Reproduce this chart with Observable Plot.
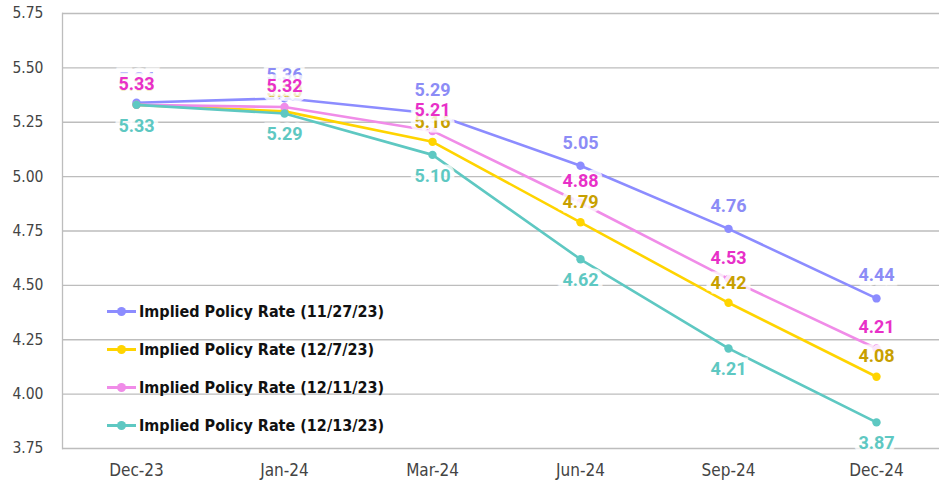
<!DOCTYPE html>
<html>
<head>
<meta charset="utf-8">
<script src="https://cdn.jsdelivr.net/npm/d3@7"></script>
<script src="https://cdn.jsdelivr.net/npm/@observablehq/plot@0.6"></script>
<style>
  html, body { margin: 0; padding: 0; background: #fff; }
  #wrap { position: relative; width: 939px; height: 482px; }
  #legend { position: absolute; left: 107px; top: 292px; font-family: "DejaVu Sans Condensed", sans-serif; font-weight: bold; font-size: 16px; color: #111; }
  .row { display: flex; align-items: center; height: 38px; }
  .sw { position: relative; width: 29px; height: 3px; margin-right: 3px; }
  .sw i { position: absolute; left: 10px; top: -3px; width: 9px; height: 9px; border-radius: 50%; }
</style>
</head>
<body>
<div id="wrap"><div id="chart"></div><div id="legend"></div></div>
<script>
const categories = ["Dec-23", "Jan-24", "Mar-24", "Jun-24", "Sep-24", "Dec-24"];
const seriesNames = ["Implied Policy Rate (11/27/23)", "Implied Policy Rate (12/7/23)", "Implied Policy Rate (12/11/23)", "Implied Policy Rate (12/13/23)"];
const rate1127 = [5.34, 5.36, 5.29, 5.05, 4.76, 4.44];
const rate127  = [5.33, 5.30, 5.16, 4.79, 4.42, 4.08];
const rate1211 = [5.33, 5.32, 5.21, 4.88, 4.53, 4.21];
const rate1213 = [5.33, 5.29, 5.10, 4.62, 4.21, 3.87];
const yTicks = [3.75, 4.00, 4.25, 4.50, 4.75, 5.00, 5.25, 5.50, 5.75];

const lineColors  = ["#8c8cff", "#ffd400", "#f08ce8", "#5ec8c2"];
const labelColors = ["#8c8cf6", "#c8a000", "#e830c8", "#5ec8c2"];
const labelDy     = [-23, -20, -21, 21];

const allSeries = [rate1127, rate127, rate1211, rate1213];
const data = [];
allSeries.forEach((vals, s) => vals.forEach((v, i) => data.push({series: seriesNames[s], s, cat: categories[i], value: v})));

const marks = [
  Plot.gridY(yTicks, {stroke: "#bdbdbd", strokeOpacity: 1, strokeWidth: 1.3}),
  Plot.frame({anchor: "left", stroke: "#bdbdbd", strokeWidth: 1.3}),
  Plot.axisY(yTicks, {tickSize: 0, tickPadding: 19, tickFormat: d => d.toFixed(2), fontSize: 15.5, fill: "#444", label: null}),
  Plot.axisX({tickSize: 0, tickPadding: 15, fontSize: 17, fill: "#444", label: null})
];
seriesNames.forEach((name, s) => {
  const d = data.filter(r => r.s === s);
  marks.push(Plot.line(d, {x: "cat", y: "value", stroke: lineColors[s], strokeWidth: 2.6}));
  marks.push(Plot.dot(d, {x: "cat", y: "value", fill: lineColors[s], r: 4.2}));
});
seriesNames.forEach((name, s) => {
  const d = data.filter(r => r.s === s);
  marks.push(Plot.text(d, {x: "cat", y: "value", text: r => r.value.toFixed(2), dy: labelDy[s], fill: labelColors[s],
    stroke: "white", strokeWidth: 9, strokeOpacity: 0.8, strokeLinejoin: "miter", paintOrder: "stroke",
    fontSize: 18, fontWeight: "bold", fontFamily: "Roboto, sans-serif"}));
});

const chart = Plot.plot({
  width: 939, height: 482,
  marginLeft: 62, marginRight: 0, marginTop: 13, marginBottom: 34,
  style: {fontFamily: "'DejaVu Sans Condensed', sans-serif", background: "white"},
  x: {type: "point", domain: categories, padding: 0, insetLeft: 73, insetRight: 63},
  y: {domain: [3.75, 5.75]},
  marks
});
document.getElementById("chart").appendChild(chart);

const legend = document.getElementById("legend");
seriesNames.forEach((name, s) => {
  const row = document.createElement("div");
  row.className = "row";
  row.innerHTML = `<span class="sw" style="background:${lineColors[s]}"><i style="background:${lineColors[s]}"></i></span><span>${name}</span>`;
  legend.appendChild(row);
});
</script>
</body>
</html>
